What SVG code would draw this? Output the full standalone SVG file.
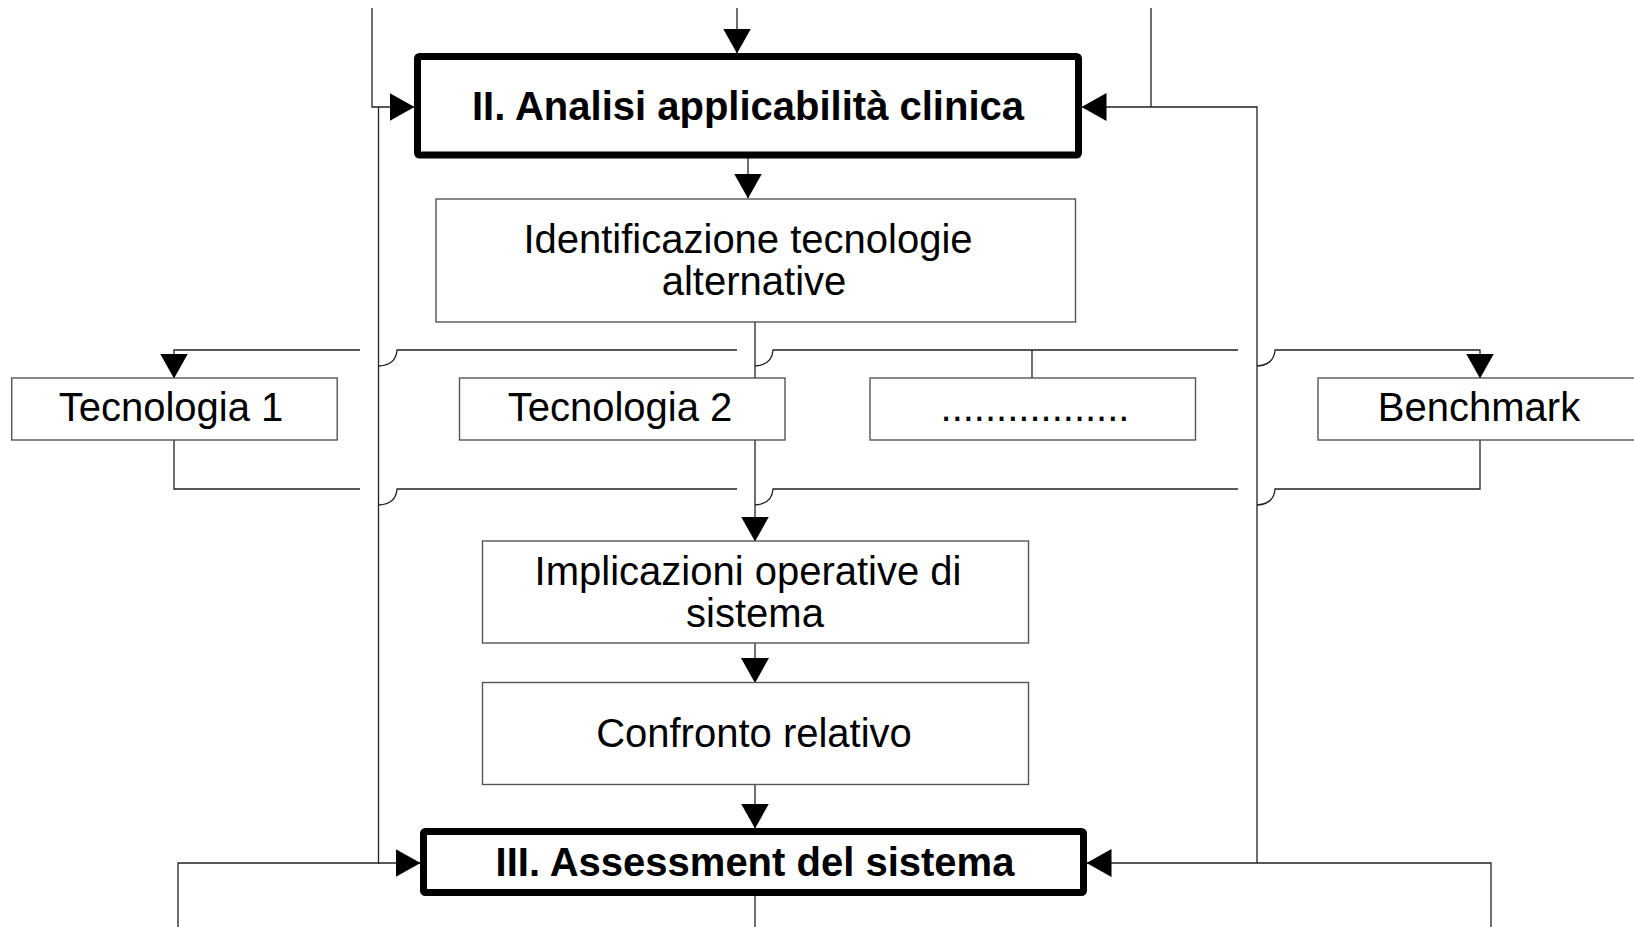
<svg xmlns="http://www.w3.org/2000/svg" width="1634" height="927" viewBox="0 0 1634 927">
<defs>
<style>
.bg{fill:#ffffff}
.conn{fill:none;stroke:#222222;stroke-width:1.3}
.box{fill:#ffffff;stroke:#555555;stroke-width:1.4}
.bold{fill:#ffffff;stroke:#000000;stroke-width:7}
.t{font-family:"Liberation Sans",Arial,sans-serif;font-size:40px;fill:#000000;text-anchor:middle}
.tb{font-family:"Liberation Sans",Arial,sans-serif;font-size:40px;font-weight:bold;fill:#000000;text-anchor:middle}
</style>
<marker id="arr" markerUnits="userSpaceOnUse" markerWidth="25" markerHeight="28" viewBox="0 0 25 28" refX="24.5" refY="14" orient="auto">
<path d="M0,0 L25,14 L0,28 Z" fill="#000000"/>
</marker>
</defs>
<rect class="bg" x="0" y="0" width="1634" height="927"/>
<g id="connectors">
<path class="conn" d="M372,8 V107 H414" marker-end="url(#arr)"/>
<path class="conn" d="M737,8 V53" marker-end="url(#arr)"/>
<path class="conn" d="M1151,8 V107"/>
<path class="conn" d="M1257,863 V107 H1082" marker-end="url(#arr)"/>
<path class="conn" d="M378.5,107 V863 H420" marker-end="url(#arr)"/>
<path class="conn" d="M178,927 V863 H379"/>
<path class="conn" d="M1491,927 V863 H1087" marker-end="url(#arr)"/>
<path class="conn" d="M748,158 V198" marker-end="url(#arr)"/>
<path class="conn" d="M755,322 V541" marker-end="url(#arr)"/>
<path class="conn" d="M755,643 V682.5" marker-end="url(#arr)"/>
<path class="conn" d="M755,784.5 V828" marker-end="url(#arr)"/>
<path class="conn" d="M755,896 V927"/>
<path class="conn" d="M360,350 H174 V378" marker-end="url(#arr)"/>
<path class="conn" d="M379,366 Q396,365 397,350 H737"/>
<path class="conn" d="M755,366 Q772,365 773,350 H1238"/>
<path class="conn" d="M1257,366 Q1274,365 1275,350 H1480 V378" marker-end="url(#arr)"/>
<path class="conn" d="M1032,350 V378"/>
<path class="conn" d="M174,440 V489 H360"/>
<path class="conn" d="M379,505 Q396,504 397,489 H737"/>
<path class="conn" d="M755,505 Q772,504 773,489 H1238"/>
<path class="conn" d="M1257,505 Q1274,504 1275,489 H1480 V440"/>
</g>
<g id="node-analisi">
<rect class="bold" x="417.5" y="56.5" width="661" height="98.5" rx="2"/>
<text class="tb" x="748" y="120">II. Analisi applicabilità clinica</text>
</g>
<g id="node-identificazione">
<rect class="box" x="436" y="199" width="639.5" height="123"/>
<text class="t" x="748" y="253">Identificazione tecnologie</text>
<text class="t" x="754" y="295">alternative</text>
</g>
<g id="node-tecnologia1">
<rect class="box" x="11.7" y="378" width="325.5" height="62"/>
<text class="t" x="171" y="421">Tecnologia 1</text>
</g>
<g id="node-tecnologia2">
<rect class="box" x="459.5" y="378" width="325.5" height="62"/>
<text class="t" x="620" y="421">Tecnologia 2</text>
</g>
<g id="node-altre">
<rect class="box" x="870" y="378" width="325.5" height="62"/>
<text class="t" x="1035" y="421">.................</text>
</g>
<g id="node-benchmark">
<rect class="box" x="1318" y="378" width="325.5" height="62"/>
<text class="t" x="1479" y="421">Benchmark</text>
</g>
<g id="node-implicazioni">
<rect class="box" x="482.5" y="541" width="546" height="102"/>
<text class="t" x="748" y="585">Implicazioni operative di</text>
<text class="t" x="755" y="627">sistema</text>
</g>
<g id="node-confronto">
<rect class="box" x="482.5" y="682.5" width="546" height="102"/>
<text class="t" x="754" y="747">Confronto relativo</text>
</g>
<g id="node-assessment">
<rect class="bold" x="423.5" y="831.5" width="660" height="61" rx="2"/>
<text class="tb" x="755" y="876">III. Assessment del sistema</text>
</g>
</svg>
